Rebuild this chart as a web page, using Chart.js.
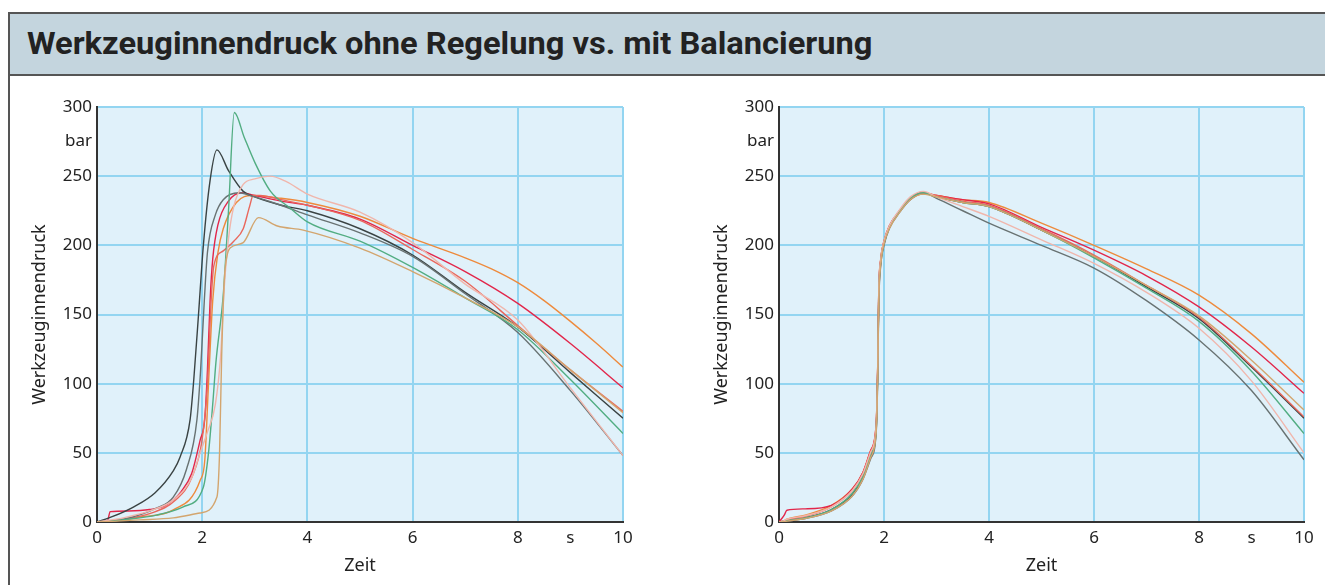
<!DOCTYPE html>
<html>
<head>
<meta charset="utf-8">
<script src="https://cdn.jsdelivr.net/npm/chart.js@4/dist/chart.umd.min.js"></script>
<style>
  body { margin: 0; background: #fff; overflow: hidden; width: 1325px; height: 585px; position: relative; }
  #frame { position: absolute; left: 8px; top: 12px; width: 1340px; height: 600px; border: 2px solid #555; border-right: none; border-bottom: none; }
  #head { position: absolute; left: 10px; top: 14px; width: 1320px; height: 60px; background: #c4d5de; border-bottom: 2px solid #555; }
  #title { position: absolute; left: 27px; top: 25px; font-family: Roboto, sans-serif; font-weight: bold; font-size: 31px; color: #222; white-space: nowrap; transform-origin: 0 0; }
  canvas { position: absolute; top: 90px; }
  #c1 { left: 0px; }
  #c2 { left: 682px; }
</style>
</head>
<body>
<div id="frame"></div>
<div id="head"></div>
<div id="title">Werkzeuginnendruck ohne Regelung vs. mit Balancierung</div>
<canvas id="c1" width="650" height="495"></canvas>
<canvas id="c2" width="643" height="495"></canvas>
<script>
// ohne Regelung (links) - jede Kurve mit eigener Zeitachse
var leftCharcoalT = [0, 0.3, 0.7, 1.1, 1.45, 1.58, 1.77, 1.84, 1.93, 2.02, 2.15, 2.28, 2.5, 2.78, 3.0, 3.5, 4, 5, 6, 7, 8, 9, 10];
var leftCharcoalV = [0, 4, 11, 21, 37, 47, 74, 103, 150, 199, 247, 269, 254, 239, 235, 229, 225, 212, 193, 166, 141, 108, 75];
var leftGreyT = [0, 0.5, 1.13, 1.45, 1.7, 1.9, 1.97, 2.04, 2.1, 2.25, 2.4, 2.7, 3.0, 3.5, 4, 5, 6, 7, 8, 9, 10];
var leftGreyV = [0, 2, 10, 18, 38, 74, 110, 160, 195, 222, 233, 238, 235, 229, 222, 209, 192, 165, 137, 95, 48];
var leftGreenT = [0, 0.6, 1.13, 1.64, 2.02, 2.12, 2.2, 2.26, 2.4, 2.5, 2.61, 2.8, 3.0, 3.3, 3.67, 4, 5, 6, 7, 8, 9, 10];
var leftGreenV = [0, 2, 5, 11, 25, 50, 85, 115, 164, 225, 296, 278, 260, 239, 227, 217, 203, 184, 162, 139, 103, 64];
var leftPinkT = [0, 0.5, 1.0, 1.45, 1.8, 1.96, 2.1, 2.25, 2.35, 2.42, 2.5, 2.6, 2.78, 3.0, 3.29, 3.6, 4, 5, 6, 7, 8, 9, 10];
var leftPinkV = [0, 3, 8, 16, 32, 50, 65, 85, 120, 170, 205, 228, 244, 248, 250, 246, 237, 224, 202, 172, 146, 97, 48];
var leftOrangeT = [0, 0.5, 0.82, 1.45, 1.96, 2.05, 2.12, 2.2, 2.3, 2.4, 2.65, 2.95, 3.5, 4, 5, 6, 7, 7.5, 8, 8.5, 9, 9.5, 10];
var leftOrangeV = [0, 1.5, 3.6, 8.7, 30, 45, 100, 160, 195, 212, 231, 236, 234, 231, 221, 205, 191, 183, 173, 160, 145, 129, 112];
var leftRedT = [0, 0.2, 0.25, 0.6, 1.0, 1.3, 1.6, 1.8, 1.96, 2.05, 2.1, 2.15, 2.2, 2.3, 2.5, 2.75, 3.0, 3.5, 4, 5, 6, 7, 8, 9, 10];
var leftRedV = [0, 1, 7.5, 8, 9, 12, 22, 35, 59, 75, 110, 160, 190, 215, 232, 238, 236, 232, 229, 219, 200, 181, 158, 129, 97];
var leftSalmonT = [0, 0.5, 1.0, 1.5, 1.8, 2.0, 2.1, 2.17, 2.22, 2.4, 2.6, 2.78, 2.9, 2.97, 3.1, 3.5, 4, 5, 6, 7, 8, 9, 10];
var leftSalmonV = [0, 2, 6, 16, 32, 60, 100, 160, 185, 196, 203, 212, 228, 236, 236, 233, 229, 218, 197, 174, 142, 110, 80];
var leftTanT = [0, 0.8, 1.45, 1.96, 2.28, 2.33, 2.37, 2.42, 2.47, 2.53, 2.78, 3.07, 3.43, 3.92, 5, 6, 7, 8, 9, 10];
var leftTanV = [0, 1.5, 3, 6.5, 18, 50, 120, 175, 192, 198, 202, 220, 214, 211, 198, 181, 162, 141, 110, 79];

// mit Balancierung (rechts) - gemeinsame Zeitachse
var rightTime = [0, 0.1, 0.15, 0.5, 1.0, 1.4, 1.6, 1.75, 1.85, 1.88, 1.9, 1.94, 2.0, 2.1, 2.3, 2.5, 2.75, 3.0, 3.5, 4, 5, 6, 7, 8, 9, 10];
var rightCharcoal = [0, 0.5, 1, 3, 9, 20, 32, 48, 66, 108, 162, 188, 201, 213, 225, 234, 238, 235, 231, 228, 211, 192, 170, 147, 112, 75];
var rightGrey = [0, 0.3, 0.6, 2.5, 8, 19, 31, 46, 64, 104, 158, 186, 200, 212, 224, 233, 238, 234, 225, 216, 200, 183.6, 160, 131.6, 95, 45];
var rightGreen = [0, 0.5, 1, 3, 9, 21, 33, 49, 67, 109, 164, 189, 202, 213, 225, 234, 238, 235, 231, 228, 211, 191, 169, 145, 109, 64];
var rightPink = [0, 1, 2, 4.5, 11, 23, 35, 51, 69, 111, 166, 190, 203, 214, 226, 235, 239, 235, 228, 221, 204, 187, 166, 140, 102, 50];
var rightOrange = [0, 1, 2, 5, 12, 24, 36, 52, 70, 113, 167, 191, 203, 214, 225, 233, 237, 236, 233, 231, 216, 200, 183, 164, 136, 101];
var rightRed = [0, 5, 8.5, 9.5, 12, 24, 36, 52, 70, 112, 166, 190, 203, 214, 225, 234, 238, 236, 233, 230, 213, 196.5, 178, 155.5, 126.5, 93];
var rightSalmon = [0, 0.8, 1.5, 4, 11, 23, 35, 51, 69, 111, 165, 190, 202, 213, 225, 234, 238, 236, 232, 229, 212, 193, 171, 148, 113, 76];
var rightTan = [0, 0.3, 0.6, 2.5, 8, 19, 31, 47, 65, 105, 160, 187, 201, 212, 224, 233, 237, 235, 231, 228, 211, 192, 171, 149, 117, 81];

var colors = {
  charcoal: '#3a4343',
  grey: '#687272',
  green: '#52ad82',
  pink: '#f0b6ac',
  orange: '#ee8a3c',
  red: '#e2264a',
  salmon: '#e9675c',
  tan: '#d3a56e'
};

function init() {
  fitTitle();
  printChart1();
  printChart2();
}

function fitTitle() {
  var t = document.getElementById('title');
  var w = t.offsetWidth;
  t.style.transform = 'scaleX(' + (845 / w) + ')';
}

function toPoints(ts, vs) {
  var pts = [];
  for (var i = 0; i < ts.length; i++) {
    pts.push({x: ts[i], y: vs[i]});
  }
  return pts;
}

function makeSet(ts, vs, color) {
  return {
    data: toPoints(ts, vs),
    borderColor: color,
    backgroundColor: color,
    borderWidth: 1.4,
    pointRadius: 0,
    showLine: true,
    fill: false,
    cubicInterpolationMode: 'monotone'
  };
}

var plotBg = {
  id: 'plotBg',
  beforeDraw: function (chart) {
    var a = chart.chartArea;
    var ctx = chart.ctx;
    ctx.save();
    ctx.fillStyle = '#e0f1fa';
    ctx.fillRect(a.left, a.top, a.right - a.left, a.bottom - a.top);
    ctx.restore();
  }
};

function chartOptions(padRight) {
  var tickFont = {family: '"Noto Sans", sans-serif', size: 17};
  var titleFont = {family: '"Noto Sans", sans-serif', size: 18};
  return {
    responsive: false,
    animation: false,
    devicePixelRatio: 1,
    layout: {padding: {top: 17, right: padRight, left: 0, bottom: 0}},
    plugins: {legend: {display: false}, tooltip: {enabled: false}},
    scales: {
      x: {
        type: 'linear',
        min: 0,
        max: 10,
        afterFit: function (scale) { scale.height = 63; },
        border: {display: true, color: '#333', width: 2},
        grid: {
          drawTicks: false,
          lineWidth: 2,
          color: function (c) { return c.tick && c.tick.value % 2 === 0 ? '#93d5f1' : 'rgba(0,0,0,0)'; }
        },
        ticks: {
          stepSize: 1,
          autoSkip: false,
          maxRotation: 0,
          padding: 6,
          color: '#222',
          font: tickFont,
          callback: function (v) { return v % 2 === 0 ? v : (v === 9 ? 's' : ''); }
        },
        title: {display: true, text: 'Zeit', color: '#222', font: titleFont, padding: {top: 0, bottom: 8}}
      },
      y: {
        min: 0,
        max: 300,
        afterFit: function (scale) { scale.width = 97; },
        border: {display: true, color: '#333', width: 2},
        grid: {
          drawTicks: false,
          lineWidth: 2,
          color: function (c) { return c.tick && c.tick.value % 50 === 0 ? '#93d5f1' : 'rgba(0,0,0,0)'; }
        },
        ticks: {
          stepSize: 25,
          autoSkip: false,
          padding: 5,
          color: '#222',
          font: tickFont,
          callback: function (v) { return v % 50 === 0 ? v : (v === 275 ? 'bar' : ''); }
        },
        title: {display: true, text: 'Werkzeuginnendruck', color: '#222', font: titleFont, padding: {top: 29, bottom: 0}}
      }
    }
  };
}

function printChart1() {
  var ctx = document.getElementById('c1').getContext('2d');
  var chart = new Chart(ctx, {
    type: 'scatter',
    data: {
      datasets: [
        makeSet(leftTanT, leftTanV, colors.tan),
        makeSet(leftPinkT, leftPinkV, colors.pink),
        makeSet(leftGreenT, leftGreenV, colors.green),
        makeSet(leftGreyT, leftGreyV, colors.grey),
        makeSet(leftSalmonT, leftSalmonV, colors.salmon),
        makeSet(leftCharcoalT, leftCharcoalV, colors.charcoal),
        makeSet(leftRedT, leftRedV, colors.red),
        makeSet(leftOrangeT, leftOrangeV, colors.orange)
      ]
    },
    options: chartOptions(27),
    plugins: [plotBg]
  });
}

function printChart2() {
  var ctx = document.getElementById('c2').getContext('2d');
  var chart = new Chart(ctx, {
    type: 'scatter',
    data: {
      datasets: [
        makeSet(rightTime, rightTan, colors.tan),
        makeSet(rightTime, rightPink, colors.pink),
        makeSet(rightTime, rightGreen, colors.green),
        makeSet(rightTime, rightGrey, colors.grey),
        makeSet(rightTime, rightSalmon, colors.salmon),
        makeSet(rightTime, rightCharcoal, colors.charcoal),
        makeSet(rightTime, rightRed, colors.red),
        makeSet(rightTime, rightOrange, colors.orange)
      ]
    },
    options: chartOptions(21),
    plugins: [plotBg]
  });
}

init();
</script>
</body>
</html>
